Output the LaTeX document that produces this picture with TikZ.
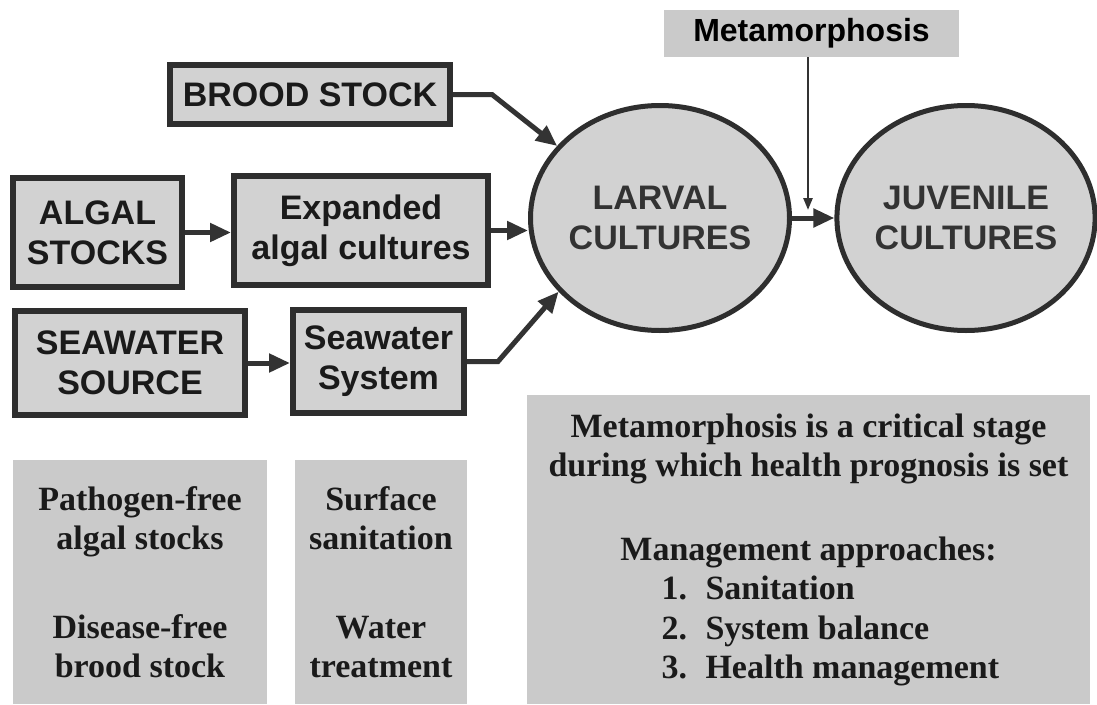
\documentclass[tikz,border=0pt]{standalone}
\usepackage{fontspec}
\setmainfont{Liberation Serif}
\newfontfamily\sansf{Liberation Sans}
\usetikzlibrary{arrows.meta,shapes.geometric}
\definecolor{boxfill}{HTML}{D2D2D2}
\definecolor{notefill}{HTML}{CACACA}
\definecolor{bordc}{HTML}{2E2E2E}
\definecolor{linec}{HTML}{333333}
\definecolor{txtc}{HTML}{1A1A1A}
\definecolor{ovtxt}{HTML}{333333}
\begin{document}
\begin{tikzpicture}[x=1pt,y=-1pt,
  flowbox/.style={draw=bordc, line width=6pt, fill=boxfill, inner sep=0pt, align=center, text=txtc,
    font=\sansf\bfseries\fontsize{34}{40}\selectfont},
  oval/.style={ellipse, draw=bordc, line width=5pt, fill=boxfill, inner sep=0pt, align=center, text=ovtxt,
    font=\sansf\bfseries\fontsize{34}{40}\selectfont},
  metabox/.style={fill=notefill, inner sep=0pt, text=black, font=\sansf\bfseries\fontsize{32}{38}\selectfont},
  notebox/.style={fill=notefill, inner sep=0pt, align=center, text=txtc,
    font=\rmfamily\bfseries\fontsize{34}{39}\selectfont},
  arr/.style={line width=5pt, draw=linec, -{Triangle[length=21pt,width=18pt]}},
  thinarr/.style={line width=2.5pt, draw=linec, -{Triangle[length=12pt,width=9pt]}}
]
\fill[white] (0,0) rectangle (1097,704);
\useasboundingbox (0,0) rectangle (1097,704);

% top flow boxes
\node[flowbox, minimum width=280pt, minimum height=59pt] (brood) at (310,94.5) {BROOD STOCK};
\node[flowbox, minimum width=169pt, minimum height=109pt] (algal) at (97.5,232.5) {ALGAL\\STOCKS};
\node[flowbox, minimum width=254pt, minimum height=109pt] (expanded) at (361,230.5) {Expanded\\algal cultures};
\node[flowbox, minimum width=230pt, minimum height=104pt] (seasrc) at (130,363) {SEAWATER\\SOURCE};
\node[flowbox, minimum width=171pt, minimum height=103pt] (seasys) at (378.5,361.5) {Seawater\\System};

% ovals
\node[oval, minimum width=259pt, minimum height=225pt] (larval) at (660,218) {LARVAL\\CULTURES};
\node[oval, minimum width=253pt, minimum height=225pt] (juvenile) at (966,218) {JUVENILE\\CULTURES};

% metamorphosis label
\node[metabox, minimum width=295pt, minimum height=47pt] (meta) at (811.5,33.5) {Metamorphosis};

% note boxes
\node[notebox, minimum width=254pt, minimum height=244pt] (pathogen) at (140,582)
  {Pathogen-free\\algal stocks\\[50pt]Disease-free\\brood stock};
\node[notebox, minimum width=172pt, minimum height=244pt] (surface) at (381,582)
  {Surface\\sanitation\\[50pt]Water\\treatment};
\node[notebox, minimum width=563pt, minimum height=309pt] (note) at (808.5,549.5)
  {Metamorphosis is a critical stage\\
   during which health prognosis is set\\[45pt]
   Management approaches:\hspace*{38pt}\\
   \makebox[294pt][l]{\makebox[44pt][l]{1.}Sanitation}\\[1pt]
   \makebox[294pt][l]{\makebox[44pt][l]{2.}System balance}\\
   \makebox[294pt][l]{\makebox[44pt][l]{3.}Health management}};

% connectors
\coordinate (b1) at (492,94.5);
\coordinate (s1) at (498,361.5);
\coordinate (mtip) at (808,210);
\draw[arr] (brood.east) -- (b1) -- (larval.145);
\draw[arr] (algal.east) -- (algal.east -| expanded.west);
\draw[arr] (expanded.east) -- (expanded.east -| larval.west);
\draw[arr] (seasrc.east) -- (seasrc.east -| seasys.west);
\draw[arr] (seasys.east) -- (s1) -- (larval.216);
\draw[arr] (larval.east) -- (juvenile.west);
\draw[thinarr] (meta.south -| mtip) -- (mtip);
\end{tikzpicture}
\end{document}
